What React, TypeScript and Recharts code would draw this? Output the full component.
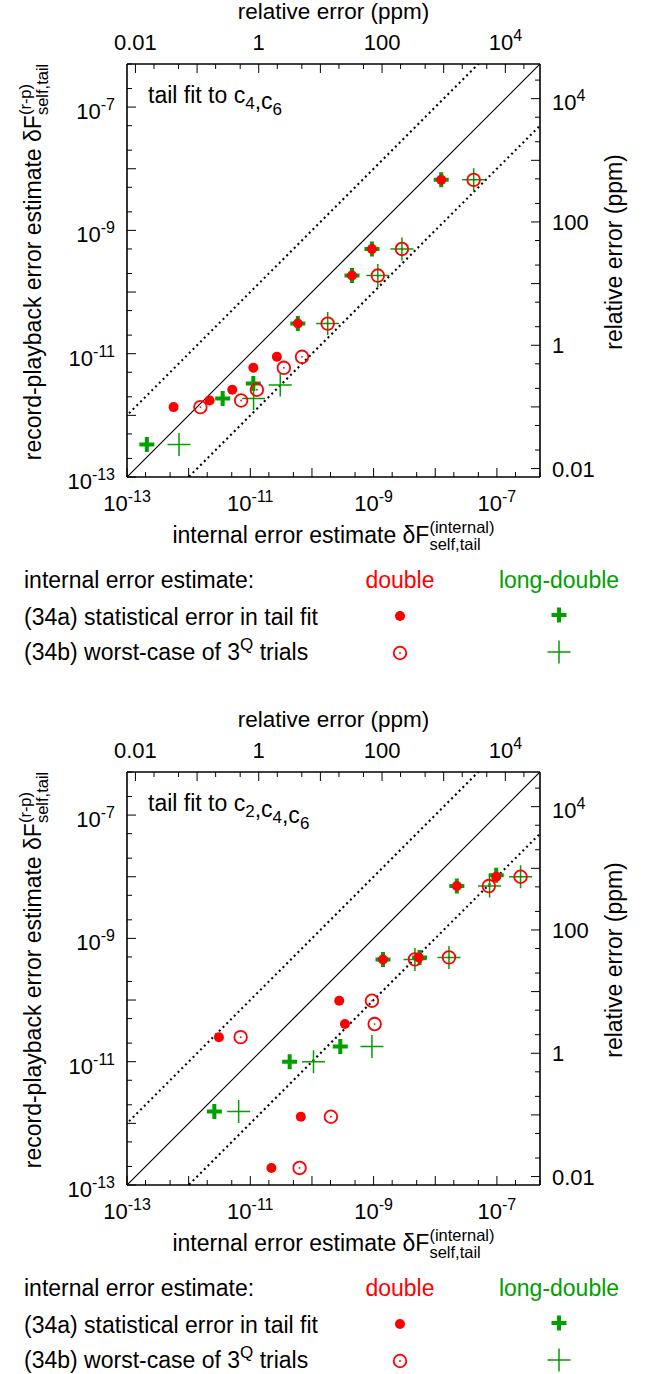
import React from "react";
import { ScatterChart, Scatter, XAxis, YAxis, ReferenceLine } from "recharts";

const FONT = '"Liberation Sans", Arial, Helvetica, sans-serif';
const RED = "#ff0000";
const GREEN = "#00a000";

// axis ranges (self-force error, and the same thing in ppm of the self-force)
const F_MIN = 1e-13;
const F_MAX = 5e-7;
const F_REF = 1.37e-5;
const PPM_MIN = (F_MIN / F_REF) * 1e6;
const PPM_MAX = (F_MAX / F_REF) * 1e6;

const MANTISSAS = [1, 2, 5];
const F_LABELS = [
  { v: 1e-13, text: "10", sup: "-13" },
  { v: 1e-11, text: "10", sup: "-11" },
  { v: 1e-9, text: "10", sup: "-9" },
  { v: 1e-7, text: "10", sup: "-7" },
];
const PPM_LABELS = [
  { v: 0.01, text: "0.01" },
  { v: 1, text: "1" },
  { v: 100, text: "100" },
  { v: 1e4, text: "10", sup: "4" },
];

// panel 1: tail fit to c4,c6   [internal, record-playback]
const P1_DOUBLE_STAT: number[][] = [
  [5.7e-13, 1.36e-12], [2.19e-12, 1.74e-12], [5.1e-12, 2.6e-12], [1.12e-11, 5.9e-12],
  [2.7e-11, 8.9e-12], [5.9e-11, 3.08e-11], [4.46e-10, 1.85e-10], [9.4e-10, 5.0e-10], [1.25e-8, 6.6e-9],
];
const P1_DOUBLE_WORST: number[][] = [
  [1.55e-12, 1.36e-12], [7.1e-12, 1.74e-12], [1.28e-11, 2.6e-12], [3.5e-11, 5.9e-12],
  [6.9e-11, 8.9e-12], [1.8e-10, 3.08e-11], [1.17e-9, 1.85e-10], [2.88e-9, 5.0e-10], [4.2e-8, 6.6e-9],
];
const P1_LONG_STAT: number[][] = [
  [2.1e-13, 3.36e-13], [3.56e-12, 1.88e-12], [1.12e-11, 3.3e-12], [5.9e-11, 3.08e-11],
  [4.46e-10, 1.85e-10], [9.4e-10, 5.0e-10], [1.25e-8, 6.6e-9],
];
const P1_LONG_WORST: number[][] = [
  [6.97e-13, 3.36e-13], [1.13e-11, 1.88e-12], [3.06e-11, 3.1e-12], [1.8e-10, 3.08e-11],
  [1.17e-9, 1.85e-10], [2.88e-9, 5.0e-10], [4.2e-8, 6.6e-9],
];

// panel 2: tail fit to c2,c4,c6
const P2_DOUBLE_STAT: number[][] = [
  [3.1e-12, 2.5e-11], [2.2e-11, 1.89e-13], [6.6e-11, 1.28e-12], [2.77e-10, 9.75e-11],
  [3.43e-10, 4.08e-11], [1.42e-9, 4.56e-10], [5.4e-9, 4.9e-10], [2.24e-8, 7.06e-9], [9.75e-8, 1.0e-8],
];
const P2_DOUBLE_WORST: number[][] = [
  [6.97e-12, 2.5e-11], [6.3e-11, 1.89e-13], [2.03e-10, 1.28e-12], [9.4e-10, 9.75e-11],
  [1.04e-9, 4.08e-11], [4.68e-9, 4.56e-10], [1.67e-8, 4.92e-10], [7.4e-8, 7.06e-9], [2.42e-7, 1.0e-8],
];
const P2_LONG_STAT: number[][] = [
  [2.61e-12, 1.55e-12], [4.35e-11, 1.0e-11], [2.88e-10, 1.77e-11], [1.42e-9, 4.56e-10],
  [5.57e-9, 4.92e-10], [2.24e-8, 7.06e-9], [9.75e-8, 1.06e-8],
];
const P2_LONG_WORST: number[][] = [
  [6.47e-12, 1.55e-12], [1.06e-10, 1.0e-11], [9.4e-10, 1.77e-11], [4.68e-9, 4.56e-10],
  [1.67e-8, 4.92e-10], [7.6e-8, 7.06e-9], [2.42e-7, 1.0e-8],
];

// dotted guide lines: factor of 10 either side of the diagonal
const GUIDE_FACTOR = 10;

// layout
const CW = 652;
const CH = 560;
const PLOT_L = 127;
const PLOT_R = 540;
const PLOT_T = 64;
const PLOT_B = 477;
const PANEL_H = 708;
const TXT = 23;

function logTicks(lo: number, hi: number) {
  const out: number[] = [];
  for (let e = Math.floor(Math.log10(lo)); e <= Math.ceil(Math.log10(hi)); e++) {
    for (const m of MANTISSAS) {
      const v = m * Math.pow(10, e);
      if (v >= lo * 0.9999 && v <= hi * 1.0001) out.push(v);
    }
  }
  return out;
}
const F_TICKS = logTicks(F_MIN, F_MAX);
const PPM_TICKS = logTicks(PPM_MIN, PPM_MAX);

const toPts = (rows: number[][]) => rows.map(([x, y]) => ({ x, y }));

type Lab = { v: number; text: string; sup?: string };

function makeTick(side: "bottom" | "top" | "left" | "right", labels: Lab[]) {
  return (props: any) => {
    const { x, y, payload } = props;
    const v = payload.value as number;
    const lg = Math.log10(v);
    const major = Math.abs(lg - Math.round(lg)) < 1e-6;
    const len = major ? 9 : 5;
    const lab = labels.find((l) => Math.abs(l.v / v - 1) < 1e-6);
    let line;
    if (side === "bottom") line = <line x1={x} y1={y} x2={x} y2={y - len} />;
    else if (side === "top") line = <line x1={x} y1={y} x2={x} y2={y + len} />;
    else if (side === "left") line = <line x1={x} y1={y} x2={x + len} y2={y} />;
    else line = <line x1={x} y1={y} x2={x - len} y2={y} />;
    let text = null;
    if (lab) {
      let tx = x;
      let ty = y;
      let anchor: "middle" | "start" | "end" = "middle";
      if (side === "bottom") ty = y + 34;
      else if (side === "top") ty = y - 14;
      else if (side === "left") { tx = x - 12; ty = y + (lab.sup ? 12 : 8); anchor = "end"; }
      else { tx = x + 12; ty = y + (lab.sup ? 11 : 8); anchor = "start"; }
      text = (
        <text x={tx} y={ty} textAnchor={anchor} fontSize={22} fontFamily={FONT} fill="#000" stroke="none">
          <tspan>{lab.text}</tspan>
          {lab.sup && <tspan dy={-9} fontSize={16}>{lab.sup}</tspan>}
        </text>
      );
    }
    return (
      <g stroke="#000" strokeWidth={1}>
        {line}
        {text}
      </g>
    );
  };
}

const Dot = (p: any) => <circle cx={p.cx} cy={p.cy} r={5} fill={RED} />;
const Ring = (p: any) => (
  <g>
    <circle cx={p.cx} cy={p.cy} r={6.3} fill="none" stroke={RED} strokeWidth={1.8} />
    <circle cx={p.cx} cy={p.cy} r={0.9} fill={RED} />
  </g>
);
const ThickPlus = (p: any) => (
  <path d={`M${p.cx - 7.5},${p.cy}h15M${p.cx},${p.cy - 7.5}v15`} stroke={GREEN} strokeWidth={4} fill="none" />
);
const ThinPlus = (p: any) => (
  <path d={`M${p.cx - 11.5},${p.cy}h23M${p.cx},${p.cy - 11.5}v23`} stroke={GREEN} strokeWidth={1.5} fill="none" />
);
const NoShape = () => <g />;

function Stack({ sup, sub }: { sup: string; sub: string }) {
  return (
    <span style={{ display: "inline-block", verticalAlign: -7, fontSize: 16.5, lineHeight: "17px", textAlign: "left" }}>
      <span style={{ display: "block" }}>{sup}</span>
      <span style={{ display: "block" }}>{sub}</span>
    </span>
  );
}

type PanelProps = {
  top: number;
  fitTerms: string[];
  doubleStat: number[][];
  doubleWorst: number[][];
  longStat: number[][];
  longWorst: number[][];
};

function Panel({ top, fitTerms, doubleStat, doubleWorst, longStat, longWorst }: PanelProps) {
  const lo = F_MIN / 10;
  const hi = F_MAX * 10;
  return (
    <div style={{ position: "absolute", left: 0, top, width: CW, height: PANEL_H, fontFamily: FONT }}>
      <ScatterChart
        width={CW}
        height={CH}
        margin={{ top: PLOT_T - 40, right: CW - PLOT_R - 80, bottom: CH - PLOT_B - 40, left: PLOT_L - 100 }}
      >
        <XAxis
          xAxisId="f" dataKey="x" type="number" scale="log" domain={[F_MIN, F_MAX]} allowDataOverflow
          ticks={F_TICKS} interval={0} height={40} tickSize={0} tickMargin={0} tickLine={false}
          tick={makeTick("bottom", F_LABELS)} axisLine={{ stroke: "#000", strokeWidth: 1.6 }}
        />
        <XAxis
          xAxisId="top" dataKey="x" orientation="top" type="number" scale="log" domain={[PPM_MIN, PPM_MAX]} allowDataOverflow
          ticks={PPM_TICKS} interval={0} height={40} tickSize={0} tickMargin={0} tickLine={false}
          tick={makeTick("top", PPM_LABELS)} axisLine={{ stroke: "#000", strokeWidth: 1.6 }}
        />
        <YAxis
          yAxisId="f" dataKey="y" type="number" scale="log" domain={[F_MIN, F_MAX]} allowDataOverflow
          ticks={F_TICKS} interval={0} width={100} tickSize={0} tickMargin={0} tickLine={false}
          tick={makeTick("left", F_LABELS)} axisLine={{ stroke: "#000", strokeWidth: 1.6 }}
        />
        <YAxis
          yAxisId="right" dataKey="y" orientation="right" type="number" scale="log" domain={[PPM_MIN, PPM_MAX]} allowDataOverflow
          ticks={PPM_TICKS} interval={0} width={80} tickSize={0} tickMargin={0} tickLine={false}
          tick={makeTick("right", PPM_LABELS)} axisLine={{ stroke: "#000", strokeWidth: 1.6 }}
        />
        <ReferenceLine xAxisId="f" yAxisId="f" ifOverflow="hidden" segment={[{ x: lo, y: lo }, { x: hi, y: hi }]} stroke="#000" strokeWidth={1.2} />
        <ReferenceLine xAxisId="f" yAxisId="f" ifOverflow="hidden"
          segment={[{ x: lo, y: lo * GUIDE_FACTOR }, { x: hi, y: hi * GUIDE_FACTOR }]}
          stroke="#000" strokeWidth={2.1} strokeDasharray="2 3.3" />
        <ReferenceLine xAxisId="f" yAxisId="f" ifOverflow="hidden"
          segment={[{ x: lo, y: lo / GUIDE_FACTOR }, { x: hi, y: hi / GUIDE_FACTOR }]}
          stroke="#000" strokeWidth={2.1} strokeDasharray="2 3.3" />
        <Scatter xAxisId="top" yAxisId="right" data={[]} shape={NoShape} isAnimationActive={false} />
        <Scatter xAxisId="f" yAxisId="f" data={toPts(longStat)} shape={ThickPlus} isAnimationActive={false} />
        <Scatter xAxisId="f" yAxisId="f" data={toPts(longWorst)} shape={ThinPlus} isAnimationActive={false} />
        <Scatter xAxisId="f" yAxisId="f" data={toPts(doubleStat)} shape={Dot} isAnimationActive={false} />
        <Scatter xAxisId="f" yAxisId="f" data={toPts(doubleWorst)} shape={Ring} isAnimationActive={false} />
      </ScatterChart>

      <svg width={CW} height={PANEL_H} style={{ position: "absolute", left: 0, top: 0, pointerEvents: "none" }}
        fontFamily={FONT} fontSize={TXT}>
        <text x={(PLOT_L + PLOT_R) / 2} y={19} textAnchor="middle" fontSize={22.5}>relative error (ppm)</text>
        <text transform={`translate(622,252) rotate(-90)`} textAnchor="middle">relative error (ppm)</text>
        <text x={148} y={103}>
          tail fit to{" "}
          {fitTerms.map((t, i) => (
            <React.Fragment key={t}>
              <tspan>{i > 0 ? ",c" : "c"}</tspan>
              <tspan dy={6} fontSize={17}>{t}</tspan>
              <tspan dy={-6}>{""}</tspan>
            </React.Fragment>
          ))}
        </text>
        <text x={24} y={588}>internal error estimate:</text>
        <text x={400} y={588} textAnchor="middle" fill={RED}>double</text>
        <text x={559} y={588} textAnchor="middle" fill={GREEN}>long-double</text>
        <text x={24} y={625}>(34a) statistical error in tail fit</text>
        <text x={24} y={660}>
          (34b) worst-case of 3<tspan dy={-10} fontSize={17}>Q</tspan><tspan dy={10}> trials</tspan>
        </text>
        <Dot cx={400} cy={616} />
        <ThickPlus cx={559} cy={615} />
        <Ring cx={400} cy={653} />
        <ThinPlus cx={559} cy={652} />
      </svg>

      <div style={{ position: "absolute", left: PLOT_L, width: PLOT_R - PLOT_L, top: 543 - 24, height: 34,
        fontSize: TXT, lineHeight: "22px", textAlign: "center", whiteSpace: "nowrap" }}>
        internal error estimate δF<Stack sup="(internal)" sub="self,tail" />
      </div>
      <div style={{ position: "absolute", left: 34 - 230, width: 460, top: 262 - 17, height: 34,
        fontSize: TXT, lineHeight: "22px", textAlign: "center", whiteSpace: "nowrap", transform: "rotate(-90deg)" }}>
        record-playback error estimate δF<Stack sup="(r-p)" sub="self,tail" />
      </div>
    </div>
  );
}

export default function App() {
  return (
    <div style={{ position: "absolute", left: 0, top: 0, width: 652, height: 1374, background: "#fff", overflow: "hidden" }}>
      <Panel top={0} fitTerms={["4", "6"]} doubleStat={P1_DOUBLE_STAT} doubleWorst={P1_DOUBLE_WORST}
        longStat={P1_LONG_STAT} longWorst={P1_LONG_WORST} />
      <Panel top={PANEL_H} fitTerms={["2", "4", "6"]} doubleStat={P2_DOUBLE_STAT} doubleWorst={P2_DOUBLE_WORST}
        longStat={P2_LONG_STAT} longWorst={P2_LONG_WORST} />
    </div>
  );
}
